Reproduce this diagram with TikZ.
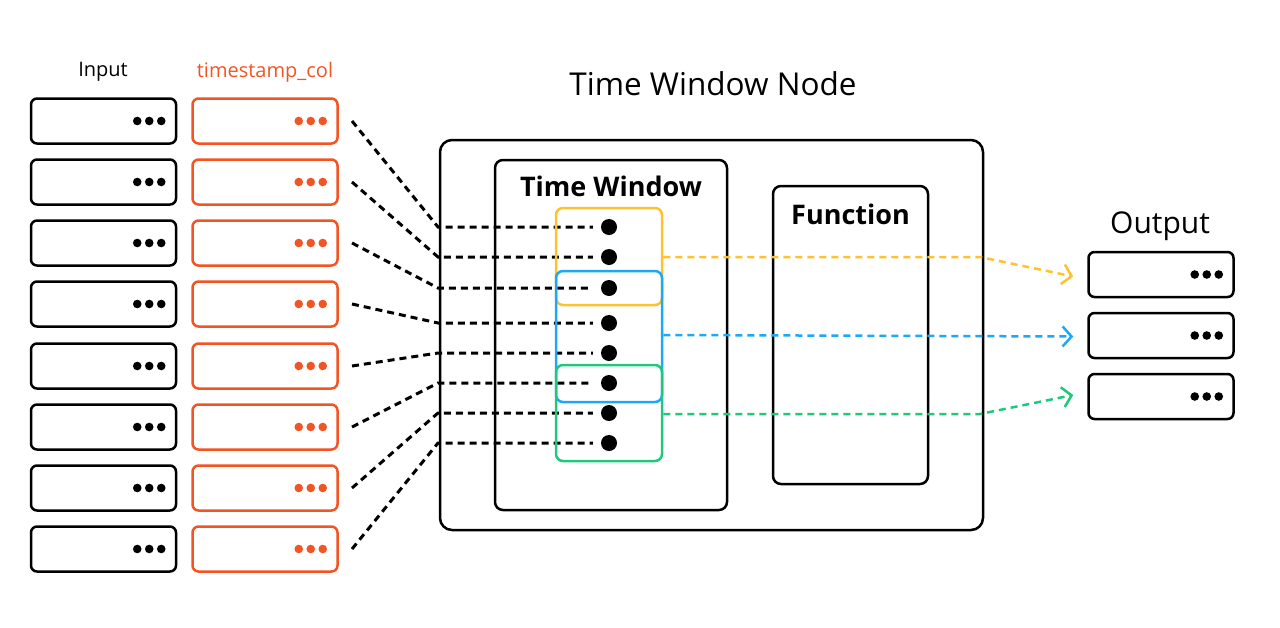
\documentclass[tikz,border=0pt]{standalone}
\usepackage{fontspec}
\setmainfont{Open Sans}
\usetikzlibrary{arrows.meta}
\definecolor{tsorange}{RGB}{242,84,36}
\definecolor{wyellow}{RGB}{255,193,46}
\definecolor{wblue}{RGB}{27,169,245}
\definecolor{wgreen}{RGB}{29,201,122}
\tikzset{
  rowbox/.style={draw, line width=2.5pt, rounded corners=6pt, minimum width=145pt, minimum height=45pt, inner sep=0pt},
  tsbox/.style={rowbox, draw=tsorange},
  bigbox/.style={draw, line width=2.5pt, rounded corners=12pt, inner sep=0pt},
  winbox/.style={draw, line width=2.5pt, rounded corners=7pt, inner sep=0pt, minimum width=106pt},
  conn/.style={line width=3pt, dash pattern=on 7pt off 5pt},
  outconn/.style={line width=2.5pt, dash pattern=on 7pt off 5pt, -{Straight Barb[length=9pt,width=20pt,line width=2.5pt]}},
  evdot/.style={circle, fill=black, minimum size=16pt, inner sep=0pt},
  lbl/.style={font=\fontsize{20}{24}\selectfont},
}
\begin{document}
\begin{tikzpicture}[x=1pt,y=-1pt]
\useasboundingbox (0,0) rectangle (1280,627);
% labels
\node[lbl] (inlbl) at (103,72) {Input};
\node[lbl, text=tsorange] (tslbl) at (265,72) {timestamp\_col};
% rows
\foreach \i/\y in {1/121,2/182,3/243,4/304,5/366,6/427,7/488,8/549}{
  \node[rowbox] (in\i) at (103.5,\y) {};
  \node[tsbox] (ts\i) at (265,\y) {};
  \foreach \k in {16,28,40}{
    \fill ([xshift=-\k pt]in\i.east) circle (4.3pt);
    \fill[tsorange] ([xshift=-\k pt]ts\i.east) circle (4.3pt);
  }
  \coordinate (s\i) at (352,\y);
}
% main boxes
\node[bigbox, minimum width=543pt, minimum height=390pt] (twn) at (711.5,335) {};
\node[font=\fontsize{31.5}{36}\selectfont] (twnlbl) at (713,84) {Time Window Node};
\node[bigbox, rounded corners=8pt, minimum width=232pt, minimum height=350pt] (tw) at (611,335) {};
\node[font=\bfseries\fontsize{27}{32}\selectfont] (twlbl) at (611,186) {Time Window};
\node[bigbox, rounded corners=8pt, minimum width=155pt, minimum height=298pt] (fn) at (850.5,335) {};
\node[font=\bfseries\fontsize{27}{32}\selectfont] (fnlbl) at (850.5,214) {Function};
% event dots and connectors
\foreach \i/\y in {1/227,2/257,3/288,4/323,5/353,6/383,7/413,8/443}{
  \node[evdot] (d\i) at (609,\y) {};
  \coordinate (j\i) at (438,\y);
  \draw[conn] (s\i) -- (j\i) -- ([xshift=-8pt]d\i.west);
}
% windows
\node[winbox, draw=wyellow, minimum height=97pt] (wy) at (609,256.5) {};
\node[winbox, draw=wblue, minimum height=131pt] (wb) at (609,336.5) {};
\node[winbox, draw=wgreen, minimum height=96pt] (wg) at (609,413) {};
% outputs
\node[font=\fontsize{30}{36}\selectfont] (outlbl) at (1160,226) {Output};
\foreach \i/\y in {1/274.5,2/335.5,3/396.5}{
  \node[rowbox] (out\i) at (1161,\y) {};
  \foreach \k in {16,28,40}{
    \fill ([xshift=-\k pt]out\i.east) circle (4.3pt);
  }
}
\coordinate (ky) at (980,257);
\coordinate (kg) at (980,414);
\draw[outconn, wyellow] (wy.east |- 0,257) -- (ky) -- ([xshift=-14pt,yshift=-2pt]out1.west);
\draw[outconn, wblue] (wb.east |- 0,335) -- ([xshift=-14pt,yshift=-1pt]out2.west);
\draw[outconn, wgreen] (wg.east |- 0,414) -- (kg) -- ([xshift=-14pt,yshift=1.5pt]out3.west);
\end{tikzpicture}
\end{document}
